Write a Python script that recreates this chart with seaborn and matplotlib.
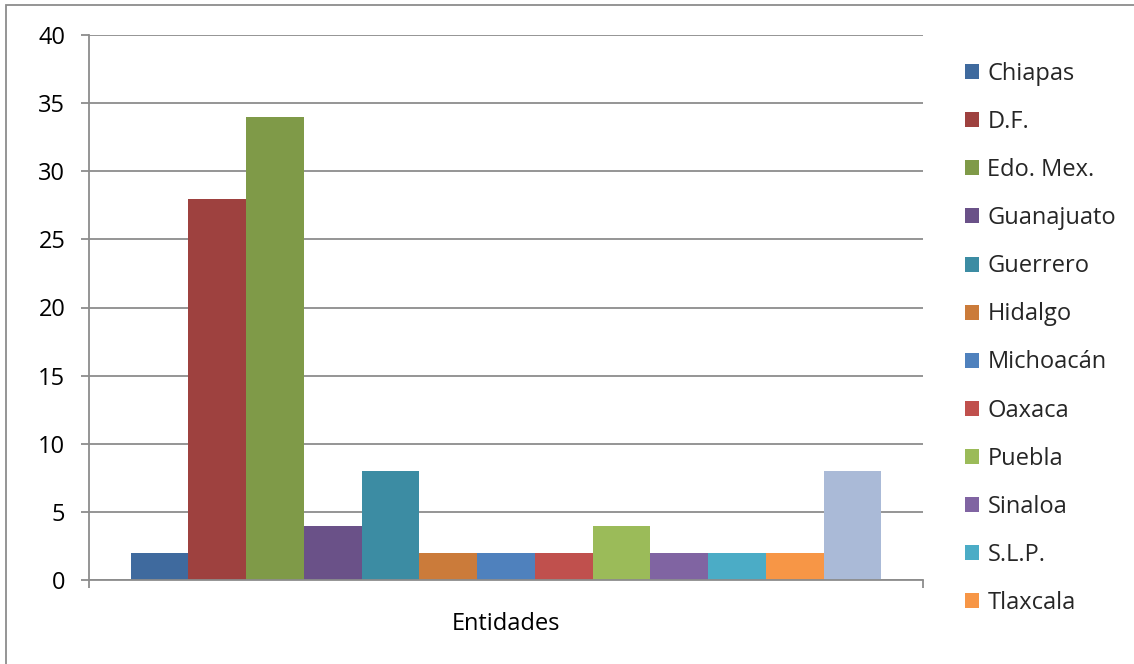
import matplotlib
matplotlib.use("Agg")
import matplotlib.pyplot as plt
from matplotlib.patches import Rectangle
import seaborn as sns
import pandas as pd

# Datos: número de casos por entidad
entidades = ["Chiapas", "D.F.", "Edo. Mex.", "Guanajuato", "Guerrero", "Hidalgo",
             "Michoacán", "Oaxaca", "Puebla", "Sinaloa", "S.L.P.", "Tlaxcala", "Veracruz"]
valores = [2, 28, 34, 4, 8, 2, 2, 2, 4, 2, 2, 2, 8]
colores = ["#3F6A9E", "#9E413F", "#7F9A48", "#6A5188", "#3C8CA3", "#CB7B3A",
           "#4F81BD", "#C0504D", "#9BBB59", "#8064A2", "#4BACC6", "#F79646", "#AABAD7"]
categoria = "Entidades"
yticks = list(range(0, 41, 5))

sns.set_style("white")
plt.rcParams["font.family"] = ["Open Sans", "DejaVu Sans"]

gris = "#8C8C8C"
fs = 17
fig = plt.figure(figsize=(11.34, 6.64), dpi=100)
ax = fig.add_axes([89 / 1134, 1 - 580 / 664, (923 - 89) / 1134, (580 - 35) / 664])

df = pd.DataFrame({"grupo": [categoria] * len(entidades),
                   "entidad": entidades, "valor": valores})
sns.barplot(data=df, x="grupo", y="valor", hue="entidad", hue_order=entidades,
            palette=colores, saturation=1, width=0.9, dodge=True,
            errorbar=None, ax=ax, linewidth=0)

ax.set_xlim(-0.5, 0.5)
ax.set_ylim(0, 40)
ax.set_yticks(yticks)
ax.set_xlabel("")
ax.set_ylabel("")
ax.set_axisbelow(True)
ax.yaxis.grid(True, color=gris, linewidth=1.3)
ax.xaxis.grid(False)

for s in ["top", "right"]:
    ax.spines[s].set_visible(False)
for s in ["left", "bottom"]:
    ax.spines[s].set_color(gris)
    ax.spines[s].set_linewidth(1.3)

ax.tick_params(axis="y", direction="out", length=6, width=1.3, color=gris,
               pad=11, labelsize=fs, labelcolor="black", left=True)
ax.tick_params(axis="x", which="major", length=0, pad=23, labelsize=fs, labelcolor="black")
ax.set_xticks([-0.5, 0.5], minor=True)
ax.tick_params(axis="x", which="minor", direction="out", length=6, width=1.3,
               color=gris, bottom=True)

# Leyenda con las primeras doce entidades
leg = ax.get_legend()
handles = leg.legend_handles[:12]
labels = [t.get_text() for t in leg.get_texts()][:12]
leg.remove()
fig.legend(handles, labels, loc="upper left", bbox_to_anchor=(965 / 1134, 1 - 62 / 664),
           frameon=False, fontsize=fs, handlelength=0.6, handleheight=0.6,
           handletextpad=0.35, labelspacing=1.02, borderpad=0, borderaxespad=0)

# Marco exterior del gráfico
fig.add_artist(Rectangle((6 / 1134, -0.1), 1.2, 1.1 - 5 / 664,
                         transform=fig.transFigure, fill=False,
                         edgecolor=gris, linewidth=1.3))

fig.savefig("out.png", dpi=100)
